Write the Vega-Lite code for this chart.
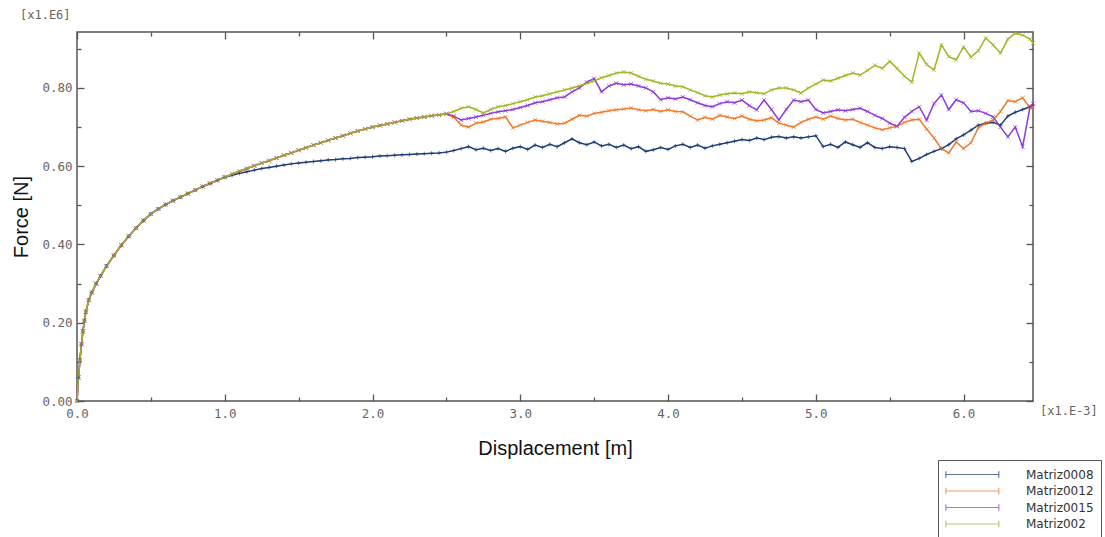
{
  "$schema": "https://vega.github.io/schema/vega-lite/v6.json",
  "width": 956,
  "height": 369,
  "autosize": {"type": "none"},
  "padding": {"left": 77, "top": 32, "right": 72, "bottom": 136},
  "background": "white",
  "config": {
    "view": {"stroke": "#555", "strokeWidth": 1.5},
    "axis": {
      "grid": false,
      "domain": false,
      "ticks": true,
      "offset": -7,
      "tickSize": 7,
      "tickColor": "#555",
      "tickWidth": 1.3,
      "zindex": 2,
      "labelFont": "DejaVu Sans Mono",
      "labelFontSize": 12.5,
      "labelColor": "#666",
      "labelFlush": false,
      "titleFont": "Liberation Sans",
      "titleFontSize": 20,
      "titleFontWeight": "normal",
      "titleColor": "#111"
    }
  },
  "datasets": {
    "curves": [
    {"x":0,"Matriz0008":0,"Matriz0012":0,"Matriz0015":0,"Matriz002":0},
    {"x":0.01,"Matriz0008":0.06,"Matriz0012":0.06,"Matriz0015":0.06,"Matriz002":0.06},
    {"x":0.02,"Matriz0008":0.105,"Matriz0012":0.105,"Matriz0015":0.105,"Matriz002":0.105},
    {"x":0.03,"Matriz0008":0.145,"Matriz0012":0.145,"Matriz0015":0.145,"Matriz002":0.145},
    {"x":0.04,"Matriz0008":0.178,"Matriz0012":0.178,"Matriz0015":0.178,"Matriz002":0.178},
    {"x":0.05,"Matriz0008":0.205,"Matriz0012":0.205,"Matriz0015":0.205,"Matriz002":0.205},
    {"x":0.06,"Matriz0008":0.228,"Matriz0012":0.228,"Matriz0015":0.228,"Matriz002":0.228},
    {"x":0.08,"Matriz0008":0.258,"Matriz0012":0.258,"Matriz0015":0.258,"Matriz002":0.258},
    {"x":0.10,"Matriz0008":0.277,"Matriz0012":0.277,"Matriz0015":0.277,"Matriz002":0.277},
    {"x":0.13,"Matriz0008":0.300,"Matriz0012":0.300,"Matriz0015":0.300,"Matriz002":0.300},
    {"x":0.16,"Matriz0008":0.320,"Matriz0012":0.320,"Matriz0015":0.320,"Matriz002":0.320},
    {"x":0.20,"Matriz0008":0.345,"Matriz0012":0.345,"Matriz0015":0.345,"Matriz002":0.345},
    {"x":0.25,"Matriz0008":0.372,"Matriz0012":0.372,"Matriz0015":0.372,"Matriz002":0.372},
    {"x":0.30,"Matriz0008":0.398,"Matriz0012":0.398,"Matriz0015":0.398,"Matriz002":0.398},
    {"x":0.35,"Matriz0008":0.421,"Matriz0012":0.421,"Matriz0015":0.421,"Matriz002":0.421},
    {"x":0.40,"Matriz0008":0.442,"Matriz0012":0.442,"Matriz0015":0.442,"Matriz002":0.442},
    {"x":0.45,"Matriz0008":0.461,"Matriz0012":0.461,"Matriz0015":0.461,"Matriz002":0.461},
    {"x":0.50,"Matriz0008":0.478,"Matriz0012":0.478,"Matriz0015":0.478,"Matriz002":0.478},
    {"x":0.55,"Matriz0008":0.491,"Matriz0012":0.491,"Matriz0015":0.491,"Matriz002":0.491},
    {"x":0.60,"Matriz0008":0.502,"Matriz0012":0.502,"Matriz0015":0.502,"Matriz002":0.502},
    {"x":0.65,"Matriz0008":0.512,"Matriz0012":0.512,"Matriz0015":0.512,"Matriz002":0.512},
    {"x":0.70,"Matriz0008":0.521,"Matriz0012":0.521,"Matriz0015":0.521,"Matriz002":0.521},
    {"x":0.75,"Matriz0008":0.530,"Matriz0012":0.530,"Matriz0015":0.530,"Matriz002":0.530},
    {"x":0.80,"Matriz0008":0.539,"Matriz0012":0.539,"Matriz0015":0.539,"Matriz002":0.539},
    {"x":0.85,"Matriz0008":0.548,"Matriz0012":0.548,"Matriz0015":0.548,"Matriz002":0.548},
    {"x":0.90,"Matriz0008":0.556,"Matriz0012":0.556,"Matriz0015":0.556,"Matriz002":0.556},
    {"x":0.95,"Matriz0008":0.564,"Matriz0012":0.564,"Matriz0015":0.564,"Matriz002":0.564},
    {"x":1.00,"Matriz0008":0.572,"Matriz0012":0.572,"Matriz0015":0.572,"Matriz002":0.572},
    {"x":1.05,"Matriz0008":0.577,"Matriz0012":0.580,"Matriz0015":0.580,"Matriz002":0.580},
    {"x":1.10,"Matriz0008":0.582,"Matriz0012":0.587,"Matriz0015":0.587,"Matriz002":0.587},
    {"x":1.15,"Matriz0008":0.586,"Matriz0012":0.594,"Matriz0015":0.594,"Matriz002":0.594},
    {"x":1.20,"Matriz0008":0.590,"Matriz0012":0.601,"Matriz0015":0.601,"Matriz002":0.601},
    {"x":1.25,"Matriz0008":0.594,"Matriz0012":0.608,"Matriz0015":0.608,"Matriz002":0.608},
    {"x":1.30,"Matriz0008":0.597,"Matriz0012":0.614,"Matriz0015":0.614,"Matriz002":0.614},
    {"x":1.35,"Matriz0008":0.600,"Matriz0012":0.621,"Matriz0015":0.621,"Matriz002":0.621},
    {"x":1.40,"Matriz0008":0.603,"Matriz0012":0.628,"Matriz0015":0.628,"Matriz002":0.628},
    {"x":1.45,"Matriz0008":0.606,"Matriz0012":0.634,"Matriz0015":0.634,"Matriz002":0.634},
    {"x":1.50,"Matriz0008":0.608,"Matriz0012":0.641,"Matriz0015":0.641,"Matriz002":0.641},
    {"x":1.55,"Matriz0008":0.610,"Matriz0012":0.647,"Matriz0015":0.647,"Matriz002":0.647},
    {"x":1.60,"Matriz0008":0.612,"Matriz0012":0.654,"Matriz0015":0.654,"Matriz002":0.654},
    {"x":1.65,"Matriz0008":0.614,"Matriz0012":0.660,"Matriz0015":0.660,"Matriz002":0.660},
    {"x":1.70,"Matriz0008":0.616,"Matriz0012":0.666,"Matriz0015":0.666,"Matriz002":0.666},
    {"x":1.75,"Matriz0008":0.617,"Matriz0012":0.672,"Matriz0015":0.672,"Matriz002":0.672},
    {"x":1.80,"Matriz0008":0.619,"Matriz0012":0.678,"Matriz0015":0.678,"Matriz002":0.678},
    {"x":1.85,"Matriz0008":0.620,"Matriz0012":0.684,"Matriz0015":0.684,"Matriz002":0.684},
    {"x":1.90,"Matriz0008":0.622,"Matriz0012":0.690,"Matriz0015":0.690,"Matriz002":0.690},
    {"x":1.95,"Matriz0008":0.623,"Matriz0012":0.695,"Matriz0015":0.695,"Matriz002":0.695},
    {"x":2.00,"Matriz0008":0.624,"Matriz0012":0.700,"Matriz0015":0.700,"Matriz002":0.700},
    {"x":2.05,"Matriz0008":0.626,"Matriz0012":0.704,"Matriz0015":0.704,"Matriz002":0.704},
    {"x":2.10,"Matriz0008":0.627,"Matriz0012":0.708,"Matriz0015":0.708,"Matriz002":0.708},
    {"x":2.15,"Matriz0008":0.628,"Matriz0012":0.712,"Matriz0015":0.712,"Matriz002":0.712},
    {"x":2.20,"Matriz0008":0.629,"Matriz0012":0.716,"Matriz0015":0.716,"Matriz002":0.716},
    {"x":2.25,"Matriz0008":0.630,"Matriz0012":0.720,"Matriz0015":0.720,"Matriz002":0.720},
    {"x":2.30,"Matriz0008":0.631,"Matriz0012":0.723,"Matriz0015":0.723,"Matriz002":0.723},
    {"x":2.35,"Matriz0008":0.632,"Matriz0012":0.726,"Matriz0015":0.726,"Matriz002":0.726},
    {"x":2.40,"Matriz0008":0.633,"Matriz0012":0.729,"Matriz0015":0.729,"Matriz002":0.729},
    {"x":2.45,"Matriz0008":0.634,"Matriz0012":0.731,"Matriz0015":0.731,"Matriz002":0.731},
    {"x":2.50,"Matriz0008":0.636,"Matriz0012":0.734,"Matriz0015":0.734,"Matriz002":0.734},
    {"x":2.55,"Matriz0008":0.640,"Matriz0012":0.725,"Matriz0015":0.728,"Matriz002":0.740},
    {"x":2.60,"Matriz0008":0.645,"Matriz0012":0.705,"Matriz0015":0.718,"Matriz002":0.748},
    {"x":2.65,"Matriz0008":0.650,"Matriz0012":0.700,"Matriz0015":0.722,"Matriz002":0.752},
    {"x":2.70,"Matriz0008":0.642,"Matriz0012":0.710,"Matriz0015":0.726,"Matriz002":0.745},
    {"x":2.75,"Matriz0008":0.646,"Matriz0012":0.713,"Matriz0015":0.730,"Matriz002":0.736},
    {"x":2.80,"Matriz0008":0.640,"Matriz0012":0.720,"Matriz0015":0.735,"Matriz002":0.745},
    {"x":2.85,"Matriz0008":0.645,"Matriz0012":0.722,"Matriz0015":0.739,"Matriz002":0.752},
    {"x":2.90,"Matriz0008":0.638,"Matriz0012":0.726,"Matriz0015":0.742,"Matriz002":0.755},
    {"x":2.95,"Matriz0008":0.646,"Matriz0012":0.698,"Matriz0015":0.745,"Matriz002":0.760},
    {"x":3.00,"Matriz0008":0.650,"Matriz0012":0.705,"Matriz0015":0.750,"Matriz002":0.765},
    {"x":3.05,"Matriz0008":0.643,"Matriz0012":0.712,"Matriz0015":0.755,"Matriz002":0.770},
    {"x":3.10,"Matriz0008":0.654,"Matriz0012":0.718,"Matriz0015":0.762,"Matriz002":0.777},
    {"x":3.15,"Matriz0008":0.648,"Matriz0012":0.715,"Matriz0015":0.765,"Matriz002":0.780},
    {"x":3.20,"Matriz0008":0.656,"Matriz0012":0.712,"Matriz0015":0.770,"Matriz002":0.785},
    {"x":3.25,"Matriz0008":0.650,"Matriz0012":0.708,"Matriz0015":0.775,"Matriz002":0.790},
    {"x":3.30,"Matriz0008":0.660,"Matriz0012":0.710,"Matriz0015":0.777,"Matriz002":0.795},
    {"x":3.35,"Matriz0008":0.670,"Matriz0012":0.720,"Matriz0015":0.790,"Matriz002":0.800},
    {"x":3.40,"Matriz0008":0.660,"Matriz0012":0.730,"Matriz0015":0.800,"Matriz002":0.805},
    {"x":3.45,"Matriz0008":0.655,"Matriz0012":0.728,"Matriz0015":0.815,"Matriz002":0.812},
    {"x":3.50,"Matriz0008":0.662,"Matriz0012":0.735,"Matriz0015":0.824,"Matriz002":0.818},
    {"x":3.55,"Matriz0008":0.652,"Matriz0012":0.738,"Matriz0015":0.790,"Matriz002":0.826},
    {"x":3.60,"Matriz0008":0.656,"Matriz0012":0.742,"Matriz0015":0.805,"Matriz002":0.832},
    {"x":3.65,"Matriz0008":0.648,"Matriz0012":0.744,"Matriz0015":0.812,"Matriz002":0.838},
    {"x":3.70,"Matriz0008":0.654,"Matriz0012":0.746,"Matriz0015":0.808,"Matriz002":0.841},
    {"x":3.75,"Matriz0008":0.645,"Matriz0012":0.749,"Matriz0015":0.810,"Matriz002":0.838},
    {"x":3.80,"Matriz0008":0.650,"Matriz0012":0.744,"Matriz0015":0.805,"Matriz002":0.830},
    {"x":3.85,"Matriz0008":0.638,"Matriz0012":0.742,"Matriz0015":0.800,"Matriz002":0.822},
    {"x":3.90,"Matriz0008":0.642,"Matriz0012":0.745,"Matriz0015":0.790,"Matriz002":0.818},
    {"x":3.95,"Matriz0008":0.648,"Matriz0012":0.740,"Matriz0015":0.770,"Matriz002":0.812},
    {"x":4.00,"Matriz0008":0.643,"Matriz0012":0.744,"Matriz0015":0.775,"Matriz002":0.810},
    {"x":4.05,"Matriz0008":0.652,"Matriz0012":0.740,"Matriz0015":0.772,"Matriz002":0.805},
    {"x":4.10,"Matriz0008":0.656,"Matriz0012":0.739,"Matriz0015":0.777,"Matriz002":0.803},
    {"x":4.15,"Matriz0008":0.648,"Matriz0012":0.728,"Matriz0015":0.770,"Matriz002":0.795},
    {"x":4.20,"Matriz0008":0.654,"Matriz0012":0.718,"Matriz0015":0.762,"Matriz002":0.788},
    {"x":4.25,"Matriz0008":0.646,"Matriz0012":0.725,"Matriz0015":0.755,"Matriz002":0.780},
    {"x":4.30,"Matriz0008":0.652,"Matriz0012":0.720,"Matriz0015":0.752,"Matriz002":0.777},
    {"x":4.35,"Matriz0008":0.656,"Matriz0012":0.730,"Matriz0015":0.760,"Matriz002":0.782},
    {"x":4.40,"Matriz0008":0.660,"Matriz0012":0.726,"Matriz0015":0.765,"Matriz002":0.785},
    {"x":4.45,"Matriz0008":0.664,"Matriz0012":0.722,"Matriz0015":0.762,"Matriz002":0.787},
    {"x":4.50,"Matriz0008":0.668,"Matriz0012":0.728,"Matriz0015":0.769,"Matriz002":0.785},
    {"x":4.55,"Matriz0008":0.666,"Matriz0012":0.720,"Matriz0015":0.755,"Matriz002":0.790},
    {"x":4.60,"Matriz0008":0.672,"Matriz0012":0.716,"Matriz0015":0.744,"Matriz002":0.788},
    {"x":4.65,"Matriz0008":0.668,"Matriz0012":0.718,"Matriz0015":0.769,"Matriz002":0.785},
    {"x":4.70,"Matriz0008":0.674,"Matriz0012":0.724,"Matriz0015":0.745,"Matriz002":0.795},
    {"x":4.75,"Matriz0008":0.676,"Matriz0012":0.710,"Matriz0015":0.718,"Matriz002":0.800},
    {"x":4.80,"Matriz0008":0.672,"Matriz0012":0.705,"Matriz0015":0.745,"Matriz002":0.800},
    {"x":4.85,"Matriz0008":0.675,"Matriz0012":0.700,"Matriz0015":0.769,"Matriz002":0.795},
    {"x":4.90,"Matriz0008":0.672,"Matriz0012":0.712,"Matriz0015":0.765,"Matriz002":0.787},
    {"x":4.95,"Matriz0008":0.675,"Matriz0012":0.720,"Matriz0015":0.769,"Matriz002":0.800},
    {"x":5.00,"Matriz0008":0.678,"Matriz0012":0.726,"Matriz0015":0.745,"Matriz002":0.810},
    {"x":5.05,"Matriz0008":0.650,"Matriz0012":0.720,"Matriz0015":0.736,"Matriz002":0.820},
    {"x":5.10,"Matriz0008":0.656,"Matriz0012":0.728,"Matriz0015":0.740,"Matriz002":0.818},
    {"x":5.15,"Matriz0008":0.648,"Matriz0012":0.722,"Matriz0015":0.744,"Matriz002":0.825},
    {"x":5.20,"Matriz0008":0.662,"Matriz0012":0.718,"Matriz0015":0.742,"Matriz002":0.832},
    {"x":5.25,"Matriz0008":0.655,"Matriz0012":0.720,"Matriz0015":0.745,"Matriz002":0.838},
    {"x":5.30,"Matriz0008":0.648,"Matriz0012":0.712,"Matriz0015":0.748,"Matriz002":0.833},
    {"x":5.35,"Matriz0008":0.660,"Matriz0012":0.705,"Matriz0015":0.740,"Matriz002":0.845},
    {"x":5.40,"Matriz0008":0.648,"Matriz0012":0.698,"Matriz0015":0.730,"Matriz002":0.858},
    {"x":5.45,"Matriz0008":0.645,"Matriz0012":0.693,"Matriz0015":0.722,"Matriz002":0.850},
    {"x":5.50,"Matriz0008":0.650,"Matriz0012":0.698,"Matriz0015":0.710,"Matriz002":0.868},
    {"x":5.55,"Matriz0008":0.648,"Matriz0012":0.702,"Matriz0015":0.702,"Matriz002":0.850},
    {"x":5.60,"Matriz0008":0.645,"Matriz0012":0.712,"Matriz0015":0.725,"Matriz002":0.830},
    {"x":5.65,"Matriz0008":0.612,"Matriz0012":0.718,"Matriz0015":0.740,"Matriz002":0.815},
    {"x":5.70,"Matriz0008":0.620,"Matriz0012":0.720,"Matriz0015":0.752,"Matriz002":0.889},
    {"x":5.75,"Matriz0008":0.630,"Matriz0012":0.695,"Matriz0015":0.718,"Matriz002":0.860},
    {"x":5.80,"Matriz0008":0.638,"Matriz0012":0.672,"Matriz0015":0.760,"Matriz002":0.846},
    {"x":5.85,"Matriz0008":0.645,"Matriz0012":0.645,"Matriz0015":0.782,"Matriz002":0.910},
    {"x":5.90,"Matriz0008":0.655,"Matriz0012":0.634,"Matriz0015":0.745,"Matriz002":0.880},
    {"x":5.95,"Matriz0008":0.670,"Matriz0012":0.662,"Matriz0015":0.770,"Matriz002":0.872},
    {"x":6.00,"Matriz0008":0.680,"Matriz0012":0.645,"Matriz0015":0.762,"Matriz002":0.905},
    {"x":6.05,"Matriz0008":0.692,"Matriz0012":0.660,"Matriz0015":0.740,"Matriz002":0.879},
    {"x":6.10,"Matriz0008":0.705,"Matriz0012":0.698,"Matriz0015":0.742,"Matriz002":0.895},
    {"x":6.15,"Matriz0008":0.710,"Matriz0012":0.710,"Matriz0015":0.735,"Matriz002":0.928},
    {"x":6.20,"Matriz0008":0.712,"Matriz0012":0.718,"Matriz0015":0.726,"Matriz002":0.910},
    {"x":6.25,"Matriz0008":0.705,"Matriz0012":0.740,"Matriz0015":0.700,"Matriz002":0.889},
    {"x":6.30,"Matriz0008":0.728,"Matriz0012":0.768,"Matriz0015":0.675,"Matriz002":0.925},
    {"x":6.35,"Matriz0008":0.738,"Matriz0012":0.765,"Matriz0015":0.700,"Matriz002":0.940},
    {"x":6.40,"Matriz0008":0.745,"Matriz0012":0.775,"Matriz0015":0.650,"Matriz002":0.935},
    {"x":6.45,"Matriz0008":0.752,"Matriz0012":0.748,"Matriz0015":0.752,"Matriz002":0.925},
    {"x":6.47,"Matriz0008":0.756,"Matriz0012":0.752,"Matriz0015":0.760,"Matriz002":0.915}
    ],
    "notes": [{"note": "unit"}]
  },
  "layer": [
    {
      "data": {"name": "curves"},
      "transform": [
        {"fold": ["Matriz0008", "Matriz0012", "Matriz0015", "Matriz002"], "as": ["Series", "Force"]}
      ],
      "mark": {"type": "line", "strokeWidth": 1.5},
      "encoding": {
        "x": {
          "field": "x", "type": "quantitative",
          "scale": {"domain": [0, 6.47], "nice": false, "zero": false},
          "axis": {
            "orient": "bottom",
            "title": "Displacement [m]",
            "titlePadding": 19,
            "values": [0, 1, 2, 3, 4, 5, 6],
            "format": ".1f",
            "labelPadding": 6
          }
        },
        "y": {
          "field": "Force", "type": "quantitative",
          "scale": {"domain": [0, 0.943], "nice": false},
          "axis": {
            "orient": "left",
            "title": "Force  [N]",
            "titlePadding": 10,
            "values": [0, 0.2, 0.4, 0.6, 0.8],
            "format": ".2f",
            "labelPadding": 5
          }
        },
        "color": {
          "field": "Series", "type": "nominal",
          "scale": {
            "domain": ["Matriz0008", "Matriz0012", "Matriz0015", "Matriz002"],
            "range": ["#1d3c78", "#f07a2a", "#8e3ad6", "#a3b425"]
          },
          "legend": {
            "orient": "none",
            "legendX": 861,
            "legendY": 428,
            "title": null,
            "strokeColor": "#555",
            "fillColor": "white",
            "padding": 7,
            "symbolType": "M-1,0H7M-1,-0.5V0.5M7,-0.5V0.5",
            "symbolSize": 175,
            "symbolStrokeWidth": 1.2,
            "labelFont": "DejaVu Sans",
            "labelFontSize": 12,
            "labelColor": "#333",
            "labelOffset": 66,
            "rowPadding": 2.5
          }
        }
      }
    },
    {
      "data": {"name": "curves"},
      "transform": [
        {"fold": ["Matriz0008"], "as": ["Series", "Force"]}
      ],
      "mark": {"type": "point", "filled": false, "size": 16, "strokeWidth": 1, "shape": "M-1,0L1,0M0,-1L0,1"},
      "encoding": {
        "x": {
          "field": "x", "type": "quantitative",
          "axis": {"orient": "top", "title": null, "labels": false, "values": [0, 1, 2, 3, 4, 5, 6]}
        },
        "y": {
          "field": "Force", "type": "quantitative",
          "axis": {"orient": "right", "title": null, "labels": false, "values": [0, 0.2, 0.4, 0.6, 0.8]}
        },
        "color": {"field": "Series", "type": "nominal"}
      }
    },
    {
      "data": {"name": "curves"},
      "transform": [
        {"fold": ["Matriz0012", "Matriz0015", "Matriz002"], "as": ["Series", "Force"]}
      ],
      "mark": {"type": "point", "filled": false, "size": 16, "strokeWidth": 1, "shape": "M-1,-1L1,1M-1,1L1,-1"},
      "encoding": {
        "x": {
          "field": "x", "type": "quantitative",
          "axis": {"orient": "bottom", "title": null, "labels": false, "offset": -4, "tickSize": 4, "values": [0.5, 1.5, 2.5, 3.5, 4.5, 5.5]}
        },
        "y": {
          "field": "Force", "type": "quantitative",
          "axis": {"orient": "left", "title": null, "labels": false, "offset": -4, "tickSize": 4, "values": [0.1, 0.3, 0.5, 0.7, 0.9]}
        },
        "color": {"field": "Series", "type": "nominal"}
      }
    },
    {
      "data": {"name": "notes"},
      "mark": {"type": "text", "text": "[x1.E6]", "align": "left", "baseline": "middle", "dx": -57, "dy": -17, "font": "DejaVu Sans Mono", "fontSize": 12, "color": "#666"},
      "encoding": {
        "x": {
          "datum": 0, "type": "quantitative",
          "axis": {"orient": "top", "title": null, "labels": false, "offset": -4, "tickSize": 4, "values": [0.5, 1.5, 2.5, 3.5, 4.5, 5.5]}
        },
        "y": {
          "datum": 0.943, "type": "quantitative",
          "axis": {"orient": "right", "title": null, "labels": false, "offset": -4, "tickSize": 4, "values": [0.1, 0.3, 0.5, 0.7, 0.9]}
        }
      }
    },
    {
      "data": {"name": "notes"},
      "mark": {"type": "text", "text": "[x1.E-3]", "align": "left", "baseline": "middle", "dx": 7, "dy": 10, "font": "DejaVu Sans Mono", "fontSize": 12, "color": "#666"},
      "encoding": {
        "x": {"datum": 6.47, "type": "quantitative", "axis": null},
        "y": {"datum": 0, "type": "quantitative", "axis": null}
      }
    }
  ],
  "resolve": {"axis": {"x": "independent", "y": "independent"}}
}
